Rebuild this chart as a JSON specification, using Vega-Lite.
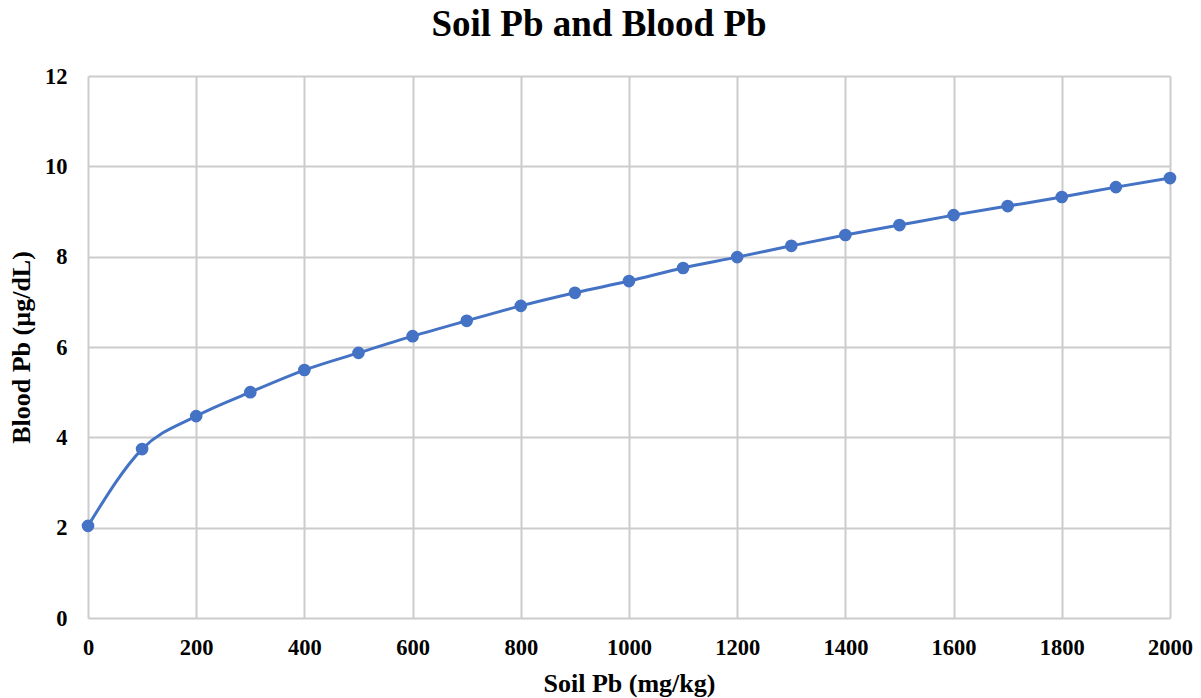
{
  "$schema": "https://vega.github.io/schema/vega-lite/v6.json",
  "autosize": "none",
  "width": 1082,
  "height": 542,
  "padding": {"left": 88, "top": 76, "right": 31, "bottom": 80},
  "background": "white",
  "title": {
    "text": "Soil Pb and Blood Pb",
    "font": "Liberation Serif",
    "fontSize": 37,
    "fontWeight": "bold",
    "color": "#000000",
    "anchor": "middle",
    "frame": "group",
    "dx": -30,
    "offset": 21
  },
  "data": {
    "values": [
      {"soil": 0, "blood": 2.04},
      {"soil": 100, "blood": 3.74},
      {"soil": 200, "blood": 4.47},
      {"soil": 300, "blood": 5.0},
      {"soil": 400, "blood": 5.49},
      {"soil": 500, "blood": 5.87},
      {"soil": 600, "blood": 6.24},
      {"soil": 700, "blood": 6.58},
      {"soil": 800, "blood": 6.91},
      {"soil": 900, "blood": 7.2},
      {"soil": 1000, "blood": 7.46},
      {"soil": 1100, "blood": 7.75},
      {"soil": 1200, "blood": 7.99},
      {"soil": 1300, "blood": 8.24},
      {"soil": 1400, "blood": 8.48},
      {"soil": 1500, "blood": 8.7},
      {"soil": 1600, "blood": 8.92},
      {"soil": 1700, "blood": 9.12},
      {"soil": 1800, "blood": 9.32},
      {"soil": 1900, "blood": 9.54},
      {"soil": 2000, "blood": 9.74}
    ]
  },
  "config": {
    "view": {"stroke": null},
    "axis": {
      "labelFont": "Liberation Serif",
      "labelFontSize": 22.5,
      "labelFontWeight": "bold",
      "labelColor": "#000000",
      "titleFont": "Liberation Serif",
      "titleFontSize": 26,
      "titleFontWeight": "bold",
      "titleColor": "#000000",
      "grid": true,
      "gridColor": "#cccccc",
      "gridWidth": 2,
      "domain": false,
      "ticks": false
    }
  },
  "encoding": {
    "x": {
      "field": "soil",
      "type": "quantitative",
      "title": "Soil Pb (mg/kg)",
      "scale": {"domain": [0, 2000], "nice": false, "zero": true},
      "axis": {"values": [0, 200, 400, 600, 800, 1000, 1200, 1400, 1600, 1800, 2000], "format": "d", "labelPadding": 18, "titlePadding": 12, "labelFlush": false}
    },
    "y": {
      "field": "blood",
      "type": "quantitative",
      "title": "Blood Pb (µg/dL)",
      "scale": {"domain": [0, 12], "nice": false},
      "axis": {"values": [0, 2, 4, 6, 8, 10, 12], "labelPadding": 21, "titlePadding": 10, "labelFlush": false}
    }
  },
  "layer": [
    {
      "mark": {"type": "line", "interpolate": "monotone", "color": "#4472C4", "strokeWidth": 3}
    },
    {
      "mark": {"type": "point", "filled": true, "opacity": 1, "color": "#4472C4", "size": 160}
    }
  ]
}
